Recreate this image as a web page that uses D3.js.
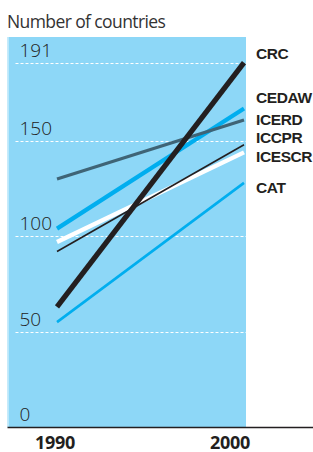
<!DOCTYPE html>
<html>
<head>
<meta charset="utf-8">
<script src="https://cdn.jsdelivr.net/npm/d3@7"></script>
<style>
  html, body { margin: 0; padding: 0; background: #fff; }
  svg { display: block; }
</style>
</head>
<body>
<script>
// ---- data ----
const years = [1990, 2000];
const seriesNames = ["CAT", "ICESCR", "ICCPR", "CEDAW", "ICERD", "CRC"];
const CAT    = [55, 128];
const ICESCR = [97, 144];
const ICCPR  = [92, 148];
const CEDAW  = [104, 167];
const ICERD  = [130, 161];
const CRC    = [63, 191];
const yTicks = [0, 50, 100, 150, 191];
const xTickLabels = ["1990", "2000"];
const title = "Number of countries";

// ---- styles ----
const styles = {
  CAT:    { color: "#00aeef", width: 2.6 },
  ICESCR: { color: "#ffffff", width: 4.2 },
  ICCPR:  { color: "#231f20", width: 1.6 },
  CEDAW:  { color: "#00aeef", width: 4.2 },
  ICERD:  { color: "#3f6476", width: 3.2 },
  CRC:    { color: "#231f20", width: 5.2 }
};
const labelBaselines = { CRC: 59, CEDAW: 103, ICERD: 125, ICCPR: 143, ICESCR: 162, CAT: 193 };
const values = { CAT, ICESCR, ICCPR, CEDAW, ICERD, CRC };

const W = 313, H = 452;
const svg = d3.select("body").append("svg").attr("width", W).attr("height", H);

const x = d3.scaleLinear().domain([1990, 2000]).range([57, 244]);
const xLabel = d3.scaleLinear().domain([1990, 2000]).range([55, 230]);
const y = d3.scaleLinear().domain([0, 191]).range([427, 62.7]);

// panel
svg.append("rect").attr("x", 7.5).attr("y", 37).attr("width", 238.5).attr("height", 390)
  .attr("fill", "#8dd7f7");
svg.append("rect").attr("x", 7.5).attr("y", 37).attr("width", 1.3).attr("height", 390)
  .attr("fill", "#c4ecfc");

// gridlines
svg.append("g").selectAll("line").data(yTicks.filter(d => d > 0)).join("line")
  .attr("x1", 15.5).attr("x2", 246)
  .attr("y1", d => Math.round(y(d)) + 0.5).attr("y2", d => Math.round(y(d)) + 0.5)
  .attr("stroke", "#fff").attr("stroke-width", 1).attr("stroke-dasharray", "3,2");

// y tick labels
svg.append("g").selectAll("text").data(yTicks).join("text")
  .attr("x", 19.5).attr("y", d => y(d) - 6)
  .attr("font-family", "'Open Sans', sans-serif").attr("font-size", 19)
  .attr("font-weight", 300)
  .attr("fill", "#222")
  .text(d => d);

// title
svg.append("text").attr("x", 7).attr("y", 28)
  .attr("font-family", "'Open Sans', sans-serif").attr("font-size", 17.5)
  .attr("fill", "#333").attr("letter-spacing", -0.6)
  .text(title);

// lines
const line = d3.line().x((d, i) => x(years[i])).y(d => y(d));
svg.append("g").selectAll("path").data(seriesNames).join("path")
  .attr("d", n => line(values[n]))
  .attr("fill", "none")
  .attr("stroke", n => styles[n].color)
  .attr("stroke-width", n => styles[n].width)
  .attr("stroke-linecap", "butt");

// series labels
svg.append("g").selectAll("text").data(seriesNames).join("text")
  .attr("x", 256).attr("y", n => labelBaselines[n])
  .attr("font-family", "'Liberation Sans', Arial, sans-serif").attr("font-size", 15.5)
  .attr("font-weight", 700).attr("fill", "#231f20")
  .attr("letter-spacing", -0.4)
  .text(n => n);

// x axis line
svg.append("line").attr("x1", 7.5).attr("x2", 313).attr("y1", 427.5).attr("y2", 427.5)
  .attr("stroke", "#231f20").attr("stroke-width", 1.6);

// x tick labels
svg.append("g").selectAll("text").data(years).join("text")
  .attr("x", d => xLabel(d)).attr("y", 448.5)
  .attr("text-anchor", "middle")
  .attr("font-family", "'Open Sans', sans-serif").attr("font-size", 18)
  .attr("font-weight", 700).attr("fill", "#231f20")
  .attr("letter-spacing", -0.3)
  .text((d, i) => xTickLabels[i]);
</script>
</body>
</html>
